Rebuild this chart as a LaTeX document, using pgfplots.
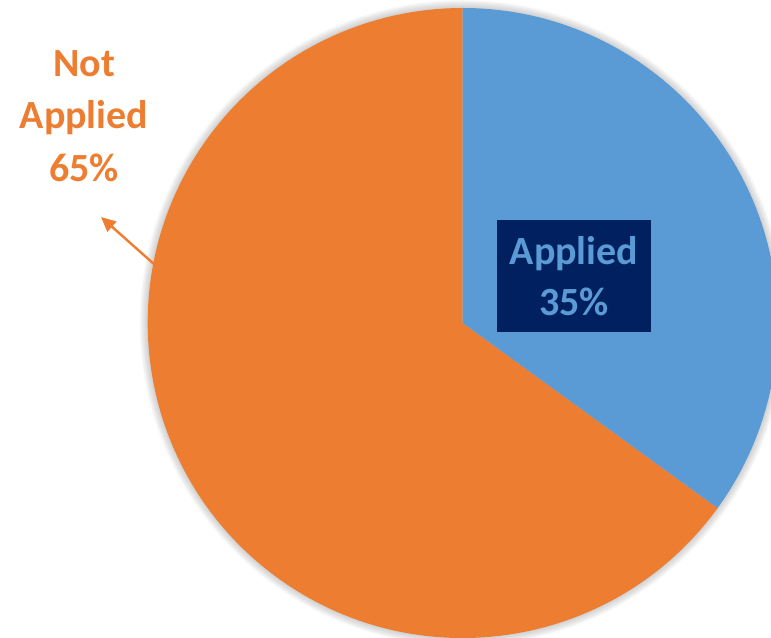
\documentclass[border=0pt]{standalone}
\usepackage{pgfplots}
\pgfplotsset{compat=1.18}
\usepackage{pgfplotstable}
\usepackage{fontspec}
\setmainfont{Carlito}
\usetikzlibrary{arrows.meta}
\definecolor{pblue}{HTML}{5B9BD5}
\definecolor{porange}{HTML}{ED7D31}
\definecolor{pnavy}{HTML}{002060}
\pgfplotstableread{
label value
Applied 35
NotApplied 65
}\piedata
\pgfplotstablegetelem{0}{value}\of\piedata
\pgfmathsetmacro\va{\pgfplotsretval}
\pgfplotstablegetelem{1}{value}\of\piedata
\pgfmathsetmacro\vb{\pgfplotsretval}
\pgfmathsetmacro\tot{\va+\vb}
\pgfmathsetmacro\aend{90-\va/\tot*360}
\pgfmathsetmacro\bend{\aend-\vb/\tot*360}
\def\cx{462.7}
\def\cy{315}
\def\R{236.25pt}
\begin{document}
\begin{tikzpicture}
\clip[use as bounding box] (0,0) rectangle (578.25pt,478.5pt);
\begin{axis}[hide axis, scale only axis, width=578.25pt, height=478.5pt,
  xmin=0, xmax=771, ymin=0, ymax=638, at={(0,0)}, anchor=south west]
\addplot[draw=none] coordinates {(0,0) (771,638)};
\pgfplotsinvokeforeach{1,...,8}{
  \fill[black, opacity=0.022] (axis cs:\cx,\cy) circle[radius=\R+#1*0.75pt];
}
\fill[porange] (axis cs:\cx,\cy) -- ++(\aend:\R) arc[start angle=\aend, end angle=\bend, radius=\R] -- cycle;
\fill[pblue] (axis cs:\cx,\cy) -- ++(90:\R) arc[start angle=90, end angle=\aend, radius=\R] -- cycle;
\node[fill=pnavy, text=pblue, minimum width=115.5pt, minimum height=84pt, align=center, inner sep=0pt,
  font=\fontsize{30}{38}\selectfont\bfseries] at (axis cs:574,362) {Applied\\35\%};
\node[text=porange, align=center, inner sep=0pt,
  font=\fontsize{30}{39.5}\selectfont\bfseries] at (axis cs:84,522) {Not\\Applied\\65\%};
\draw[porange, line width=1.8pt, -{Triangle[length=11pt,width=10pt]}] (axis cs:155,373) -- (axis cs:101,421);
\end{axis}
\end{tikzpicture}
\end{document}
